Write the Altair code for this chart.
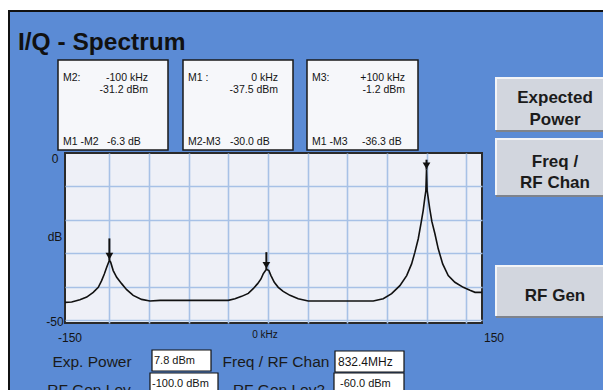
import altair as alt
import pandas as pd

# ---------------- data ----------------
freq_khz = [-128, -123.8, -118.6, -114.3, -110.2, -107.0, -104.9, -103.2, -101.7, -100.0,
            -99.2, -97.6, -95.4, -92.3, -89.1, -85.0, -79.7, -74.4, -68.1, -50.0, -33.4,
            -25.0, -20.8, -16.6, -12.4, -9.3, -6.5, -4.4, -3.0, -1.0,
            0.6, 1.9, 4.0, 6.5, 9.6, 13.9, 19.1, 25.4, 35.9, 58.0, 66.4,
            72.7, 78.0, 83.2, 87.5, 90.6, 92.7, 94.8, 96.5, 97.9, 99.0, 99.6, 100.0,
            100.4, 101.0, 102.0, 103.4, 105.3, 107.4, 110.2, 113.7, 117.9, 123.2, 127.4, 130.6, 135.0]
level_db = [-44.6, -44.5, -43.8, -43.0, -41.6, -40.1, -38.1, -36.1, -34.1, -32.0,
            -32.6, -35.1, -37.1, -39.0, -40.8, -42.5, -43.7, -44.2, -44.0, -44.0, -44.0,
            -44.0, -43.5, -42.8, -41.9, -40.5, -39.0, -37.6, -36.1, -34.7,
            -35.1, -36.6, -38.6, -40.1, -41.3, -42.5, -43.5, -44.2, -44.2, -44.2, -44.2,
            -43.5, -42.0, -39.6, -36.6, -33.1, -29.6, -25.6, -21.1, -17.2, -13.2, -11.2, -5.0,
            -11.2, -13.2, -16.5, -20.5, -24.1, -28.6, -33.1, -36.6, -38.6, -40.1, -41.0, -41.6, -41.6]

marker_freq = [-100, -1.0, 100]
marker_level = [-32.0, -34.7, -5.0]
marker_stem_top = [-25.5, -29.6, -2.0]

marker_names = ["M2:", "M1 :", "M3:"]
marker_freq_text = ["-100 kHz", "0 kHz", "+100 kHz"]
marker_level_text = ["-31.2 dBm", "-37.5 dBm", "-1.2 dBm"]
delta_names = ["M1 -M2", "M2-M3", "M1 -M3"]
delta_values = ["-6.3 dB", "-30.0 dB", "-36.3 dB"]

x_grid = [-100, -75, -50, -25, 0, 25, 50, 75, 100, 125]
y_grid = [-10, -20, -30, -40, -50]
x_domain = [-128, 135]
y_domain = [-50.75, 0]
x_tick_text = ["-150", "0 kHz", "150"]
y_tick_vals = [0, -25, -50]
y_tick_text = ["0", "dB", "-50"]

title_text = "I/Q - Spectrum"
button_lines = [["Expected", "Power"], ["Freq /", "RF Chan"], ["RF Gen"]]
field_labels = ["Exp. Power", "Freq / RF Chan", "RF Gen Lev", "RF Gen Lev2"]
field_values = ["7.8 dBm", "832.4MHz", "-100.0 dBm", "-60.0 dBm"]

# ---------------- layout / style ----------------
W, H = 417, 170
BLUE = "#5b8bd5"
FONT = "Liberation Sans"
INK = "#141414"

xs = alt.Scale(domain=x_domain, nice=False, zero=False)
ys = alt.Scale(domain=y_domain, nice=False, zero=False)
xaxis = alt.Axis(values=x_grid, grid=True, labels=False, ticks=False, domain=False,
                 title=None, gridColor="#a7c1e6", gridWidth=1.6, gridOpacity=1)
yaxis = alt.Axis(values=y_grid, grid=True, labels=False, ticks=False, domain=False,
                 title=None, gridColor="#a7c1e6", gridWidth=1.6, gridOpacity=1)
X = alt.X("f:Q", scale=xs, axis=xaxis)
Y = alt.Y("db:Q", scale=ys, axis=yaxis)

one = pd.DataFrame({"k": [0]})
layers = []


def rect(x0, x1, y0, y1, fill, stroke=None, sw=0):
    kw = dict(fill=fill)
    if stroke:
        kw.update(stroke=stroke, strokeWidth=sw)
    return alt.Chart(one).mark_rect(**kw).encode(
        x=alt.value(x0), x2=alt.value(x1), y=alt.value(y0), y2=alt.value(y1))


def txt(s, x, y, size, align="left", weight="normal", font=FONT, color=INK, baseline="middle"):
    return alt.Chart(one).mark_text(text=s, align=align, baseline=baseline, fontSize=size,
                                    fontWeight=weight, font=font, color=color).encode(
        x=alt.value(x), y=alt.value(y))


# frame edges of the instrument screen
layers.append(rect(-57, 546, -145, -143, "white"))
layers.append(rect(-57, 546, -143, -141, "#111111"))
layers.append(rect(-57, -55, -143, 260, "#111111"))

# title
layers.append(txt(title_text, -47, -103, 24.5, weight="bold", baseline="alphabetic", color="#111111"))

# marker info boxes
box_x0 = [-7, 118, 242]
box_x1 = [103, 228, 353]
name_x = [-2, 123, 247]
val_right = [83, 213, 340]
delta_x = [42, 165, 297]
for i in range(3):
    layers.append(rect(box_x0[i], box_x1[i], -93, -3, "#f6f7fa", "#1a1a1a", 1.5))
    layers.append(txt(marker_names[i], name_x[i], -75, 10.5))
    layers.append(txt(marker_freq_text[i], val_right[i], -75, 10.5, align="right"))
    layers.append(txt(marker_level_text[i], val_right[i], -63, 10.5, align="right"))
    layers.append(txt(delta_names[i], name_x[i], -11, 10.5))
    layers.append(txt(delta_values[i], delta_x[i], -11, 10.5))

# buttons on the right
btn_y0 = [-76, -15, 112]
btn_y1 = [-21, 44, 165]
btn_text_y = [[-55, -33], [9, 30], [143]]
for i in range(3):
    layers.append(rect(431, 546, btn_y0[i] + 1, btn_y1[i], "#7e838c"))
    layers.append(rect(430, 544, btn_y0[i], btn_y1[i] - 2, "#f3f4f7"))
    layers.append(rect(432, 544, btn_y0[i] + 2, btn_y1[i] - 2, "#d2d6de"))
    for line, yy in zip(button_lines[i], btn_text_y[i]):
        layers.append(txt(line, 490, yy, 17, align="center", weight="bold", color="#1b1b1b"))

# fields below the plot
lab_x = [27, 211, 24, 214]
lab_y = [209, 209, 237, 237]
fbox = [(87, 146, 197, 218), (270, 339, 198, 219), (85, 153, 220, 244), (269, 339, 220, 244)]
ftext = [(89, 208, 11), (273, 209, 12), (87, 231, 11), (275, 231, 11)]
for i in range(4):
    layers.append(txt(field_labels[i], lab_x[i], lab_y[i], 15.5, align="center", color="#1a1a1a"))
    x0, x1, y0, y1 = fbox[i]
    layers.append(rect(x0, x1, y0, y1, "white", "#111111", 1.2))
    tx, ty, ts = ftext[i]
    layers.append(txt(field_values[i], tx, ty, ts))

# spectrum trace
curve = pd.DataFrame({"f": freq_khz, "db": level_db})
layers.append(alt.Chart(curve).mark_line(color="#111111", strokeWidth=1.6).encode(x=X, y=Y))

# markers
mk = pd.DataFrame({"f": marker_freq, "db": marker_level, "top": marker_stem_top})
layers.append(alt.Chart(mk).mark_rule(color="#111111", strokeWidth=2).encode(
    x=X, y=Y, y2="top:Q"))
layers.append(alt.Chart(mk).mark_point(shape="triangle-down", filled=True, color="#111111",
                                       size=60, opacity=1, yOffset=-4).encode(x=X, y=Y))

# tick labels
xl = pd.DataFrame({"f": [x_domain[0], 0, x_domain[1]], "t": x_tick_text})
for label, dx, fs, yy in [("-150", 5, 12, 185), ("0 kHz", -3, 10, 182), ("150", 12, 12, 185)]:
    layers.append(alt.Chart(xl).transform_filter(alt.datum.t == label).mark_text(
        align="center", baseline="middle", fontSize=fs, font=FONT, color=INK, dx=dx).encode(
        x=X, y=alt.value(yy), text="t:N"))
yl = pd.DataFrame({"db": y_tick_vals, "t": y_tick_text})
for label, dy in [("0", 6, ), ("dB", 0), ("-50", 2)]:
    layers.append(alt.Chart(yl).transform_filter(alt.datum.t == label).mark_text(
        align="center", baseline="middle", fontSize=12, font=FONT, color=INK, dy=dy).encode(
        y=Y, x=alt.value(-10), text="t:N"))

chart = alt.layer(*layers).properties(
    width=W, height=H,
    autosize=alt.AutoSizeParams(type="none"),
    padding={"left": 57, "top": 145, "right": 121, "bottom": 67},
).configure(background=BLUE).configure_view(
    fill="#eef0f7", stroke="#2a2a2a", strokeWidth=2)

chart.save("out.html", embed_options={"renderer": "svg", "actions": False})
